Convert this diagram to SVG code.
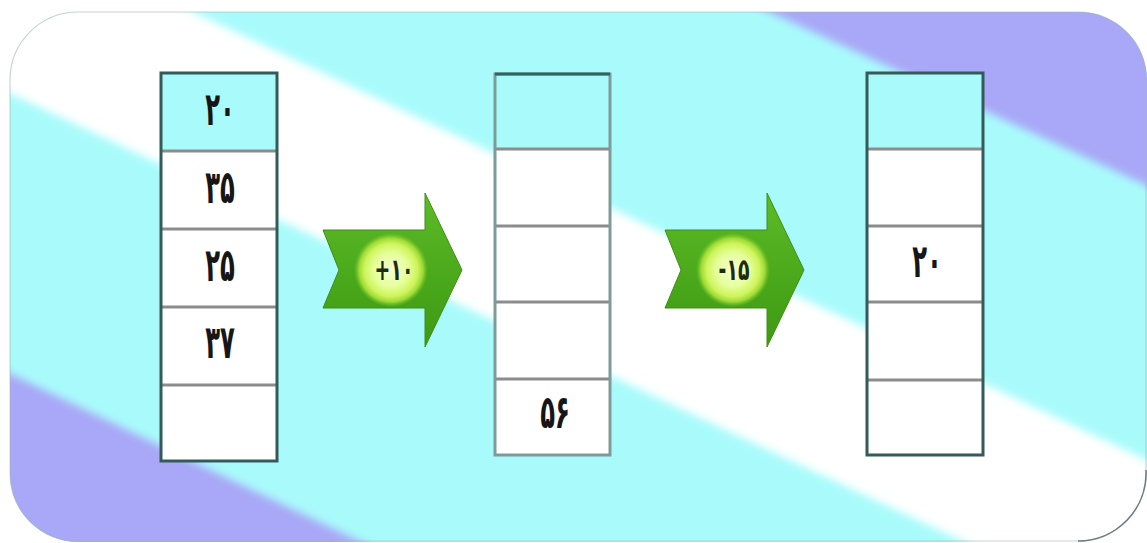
<svg xmlns="http://www.w3.org/2000/svg" width="1147" height="543" viewBox="0 0 1147 543">
  <style>
    .num { font-family: "DejaVu Sans Condensed", "DejaVu Sans", sans-serif; font-weight: bold; font-size: 30px; fill: #161616; text-anchor: middle; direction: ltr; letter-spacing: 4px; }
    .op { font-family: "DejaVu Sans Condensed", "DejaVu Sans", sans-serif; font-weight: bold; font-size: 21px; fill: #1f2a12; text-anchor: middle; direction: ltr; letter-spacing: 4px; }
    .cell { fill: #ffffff; }
    .top { fill: #a9fafa; }
    .sep { stroke: #8c8c8c; stroke-width: 3; }
    .frame { fill: none; stroke: #355a5a; stroke-width: 3; }
    .frame2 { fill: none; stroke: #7f9a9a; stroke-width: 3; }
    .arrow { fill: url(#green); stroke: #3e8f12; stroke-width: 1; }
  </style>
  <defs>
    <clipPath id="panelClip">
      <rect x="10" y="12" width="1137" height="530" rx="68" ry="68"/>
    </clipPath>
    <filter id="soft" x="-5%" y="-5%" width="110%" height="110%">
      <feGaussianBlur stdDeviation="4"/>
    </filter>
    <linearGradient id="green" x1="0" y1="0" x2="0" y2="1">
      <stop offset="0" stop-color="#5ebb28"/>
      <stop offset="0.5" stop-color="#4caa1c"/>
      <stop offset="1" stop-color="#3e9a14"/>
    </linearGradient>
    <radialGradient id="glow" cx="0.5" cy="0.5" r="0.5">
      <stop offset="0" stop-color="#f4ffd6"/>
      <stop offset="0.45" stop-color="#e6ff9c"/>
      <stop offset="0.72" stop-color="#cdf45a"/>
      <stop offset="0.86" stop-color="#a8e03a" stop-opacity="0.9"/>
      <stop offset="1" stop-color="#7cc82a" stop-opacity="0"/>
    </radialGradient>
    <path id="arrowShape" d="M323,230 L425,230 L425,193 L462,270 L425,347 L425,308 L323,308 L339,270 Z"/>
  </defs>

  <rect x="0" y="0" width="1147" height="543" fill="#ffffff"/>

  <g id="background" clip-path="url(#panelClip)">
    <rect x="0" y="0" width="1147" height="543" fill="#a9fbfb"/>
    <g filter="url(#soft)">
      <polygon points="-100,-62 193,12 1300,532 1300,900 -100,900" fill="#ffffff"/>
      <polygon points="-100,41 1300,699 1300,900 -100,900" fill="#a9fbfb"/>
      <polygon points="-100,320 1300,992 1300,1200 -100,1200" fill="#a9a7f7"/>
      <polygon points="700,-20 1300,256 1300,-100 700,-100" fill="#a9a7f7"/>
      <polygon points="-100,-200 193,12 -100,12" fill="#ffffff"/>
    </g>
  </g>
  <rect x="10" y="12" width="1136" height="529" rx="68" ry="68" fill="none" stroke="#a8b8b8" stroke-width="1.2" stroke-opacity="0.6"/>
  <path d="M1146,470 A68,68 0 0 1 1078,541" fill="none" stroke="#6f7a7a" stroke-width="1.5"/>

  <g id="col1">
    <rect class="top" x="161" y="73" width="116" height="78"/>
    <rect class="cell" x="161" y="151" width="116" height="310"/>
    <line class="sep" x1="161" y1="151" x2="277" y2="151"/>
    <line class="sep" x1="161" y1="229" x2="277" y2="229"/>
    <line class="sep" x1="161" y1="307" x2="277" y2="307"/>
    <line class="sep" x1="161" y1="385" x2="277" y2="385"/>
    <rect class="frame" x="161" y="73" width="116" height="388"/>
    <text class="num" transform="translate(220,125) scale(0.9,1.55)">۲۰</text>
    <text class="num" transform="translate(220,203) scale(0.9,1.55)">۳۵</text>
    <text class="num" transform="translate(220,281) scale(0.9,1.55)">۲۵</text>
    <text class="num" transform="translate(220,358) scale(0.9,1.55)">۳۷</text>
  </g>

  <g id="col2">
    <rect class="top" x="495" y="74" width="115" height="75"/>
    <rect class="cell" x="495" y="149" width="115" height="306"/>
    <line class="sep" x1="495" y1="149" x2="610" y2="149"/>
    <line class="sep" x1="495" y1="226" x2="610" y2="226"/>
    <line class="sep" x1="495" y1="302" x2="610" y2="302"/>
    <line class="sep" x1="495" y1="379" x2="610" y2="379"/>
    <rect class="frame2" x="495" y="74" width="115" height="381"/>
    <line x1="495" y1="74" x2="610" y2="74" stroke="#2f6464" stroke-width="3"/>
    <text class="num" transform="translate(555,428) scale(0.9,1.55)">۵۶</text>
  </g>

  <g id="col3">
    <rect class="top" x="867" y="73" width="116" height="76"/>
    <rect class="cell" x="867" y="149" width="116" height="306"/>
    <line class="sep" x1="867" y1="149" x2="983" y2="149"/>
    <line class="sep" x1="867" y1="226" x2="983" y2="226"/>
    <line class="sep" x1="867" y1="302" x2="983" y2="302"/>
    <line class="sep" x1="867" y1="380" x2="983" y2="380"/>
    <rect class="frame" x="867" y="73" width="116" height="382"/>
    <text class="num" transform="translate(927,277) scale(0.9,1.55)">۲۰</text>
  </g>

  <g id="connectors">
    <g id="arrow1">
      <use href="#arrowShape" class="arrow"/>
      <circle cx="391" cy="270" r="37" fill="url(#glow)"/>
      <text class="op" transform="translate(394,280) scale(1,1.45)">+۱۰</text>
    </g>
    <g id="arrow2" transform="translate(342,0)">
      <use href="#arrowShape" class="arrow"/>
      <circle cx="391" cy="270" r="37" fill="url(#glow)"/>
      <text class="op" transform="translate(392,280) scale(1,1.45)">-۱۵</text>
    </g>
  </g>
</svg>
